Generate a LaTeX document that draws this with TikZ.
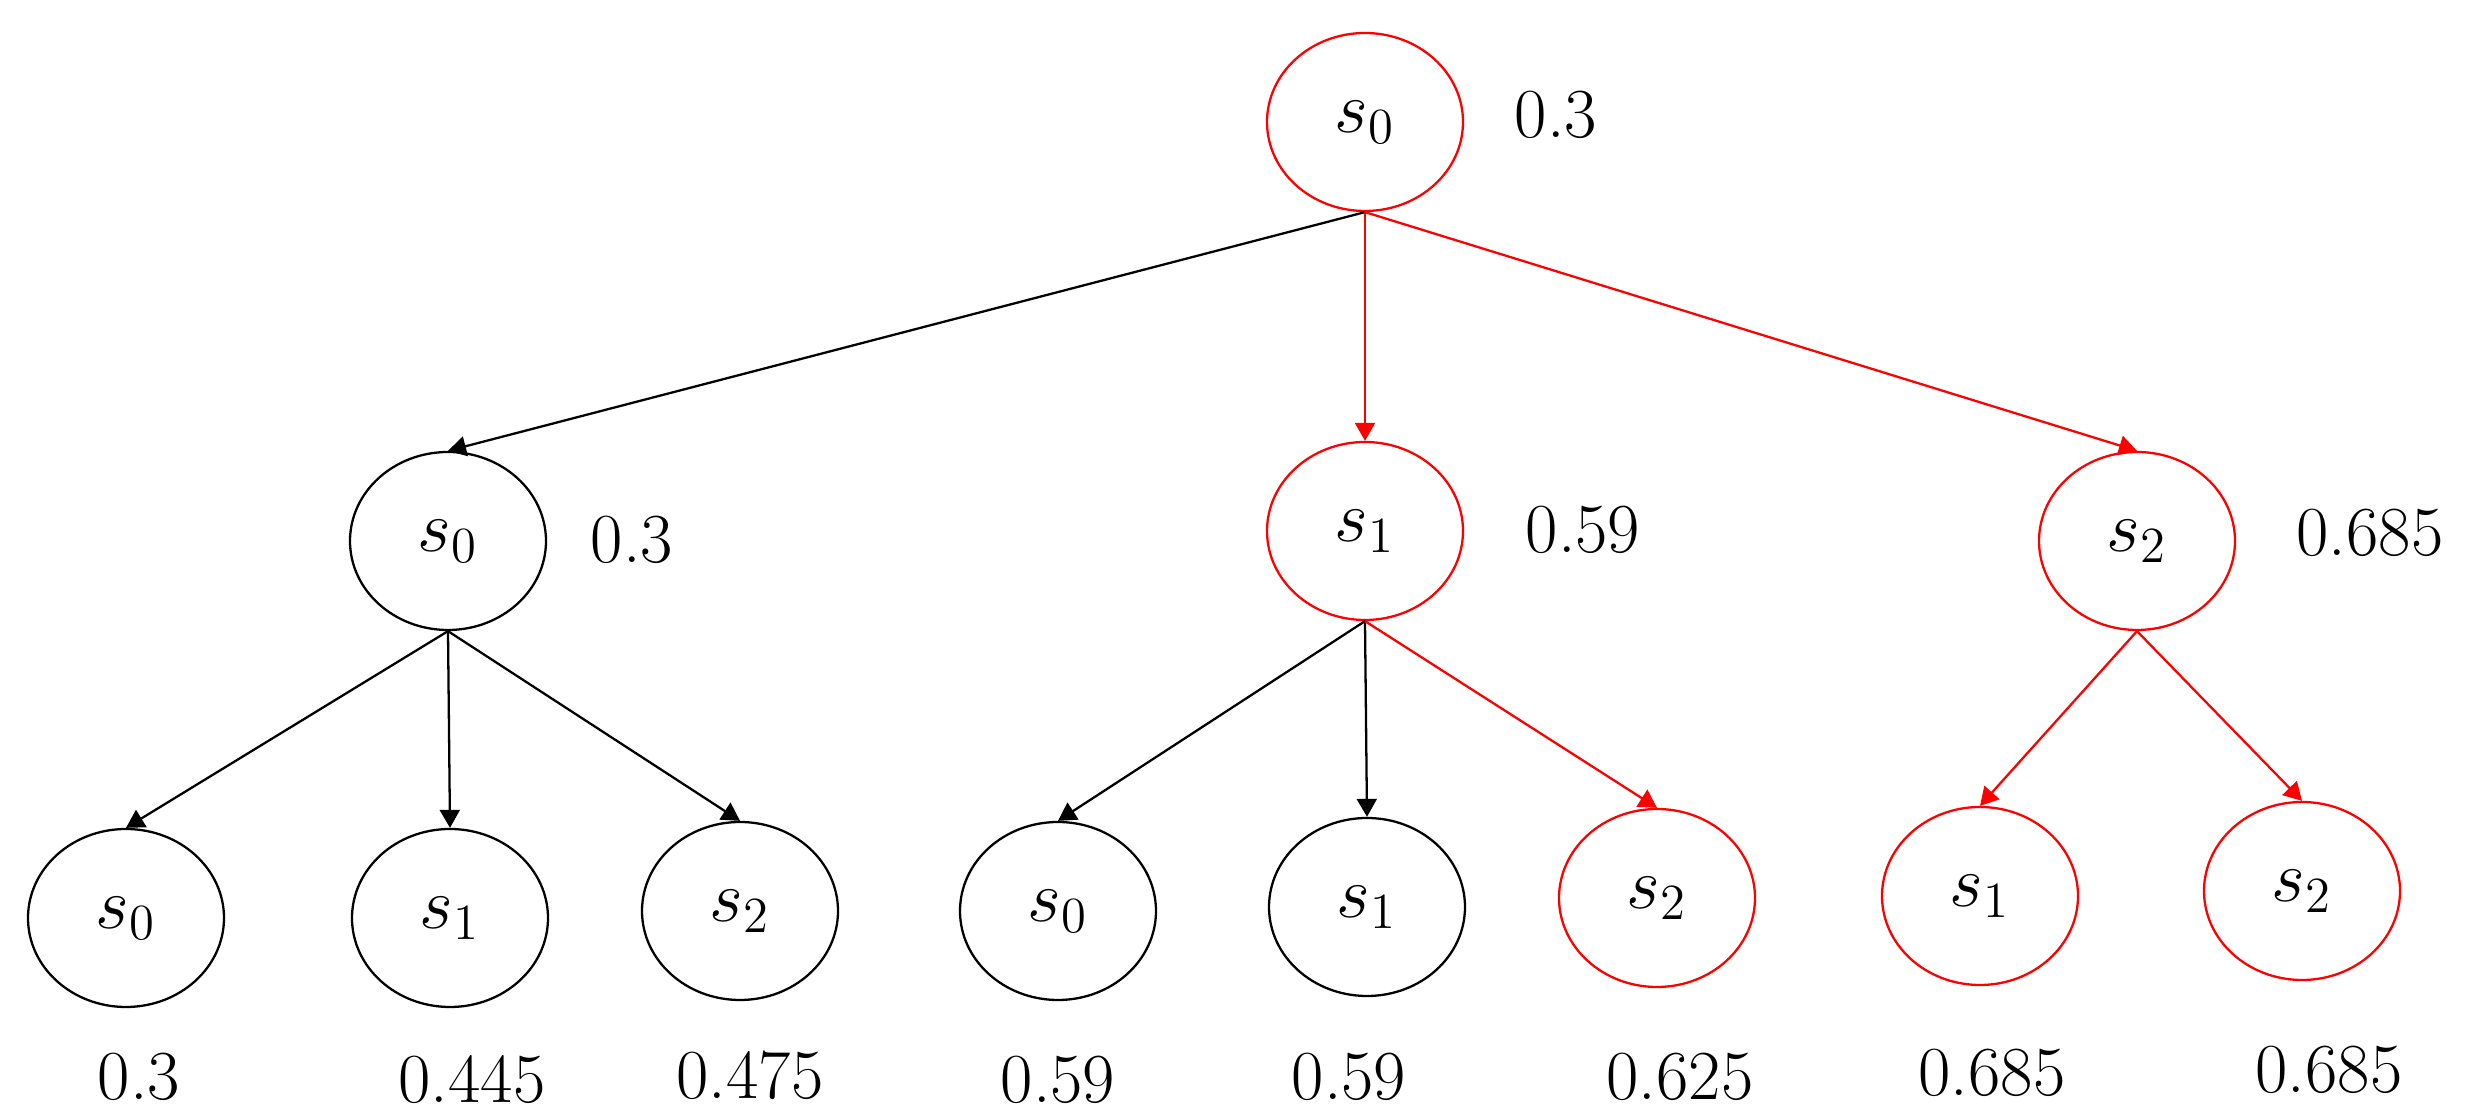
\documentclass[tikz,border=0pt]{standalone}
\usepackage{xcolor}
\usetikzlibrary{shapes.geometric,arrows.meta}
\begin{document}
\begin{tikzpicture}[font=\fontsize{20}{23}\selectfont,
		state/.style={draw,ellipse,inner sep=0pt,minimum width=1.96cm,minimum height=1.78cm,line width=0.65pt},
		hot/.style={state,draw=red},
		edge/.style={-{Triangle[length=1.8mm,width=2mm]},line width=0.65pt}]
			\useasboundingbox(0,0)rectangle(24.7,11.17);
			% states
			\node[hot](r)at(13.65,9.95){$s_0$};
			\node[state](a0)at(4.48,5.76){$s_0$};
			\node[hot](a1)at(13.65,5.86){$s_1$};
			\node[hot](a2)at(21.37,5.76){$s_2$};
			\node[state](b0)at(1.26,1.99){$s_0$};
			\node[state](b1)at(4.50,1.99){$s_1$};
			\node[state](b2)at(7.40,2.06){$s_2$};
			\node[state](b3)at(10.58,2.06){$s_0$};
			\node[state](b4)at(13.67,2.10){$s_1$};
			\node[hot](b5)at(16.57,2.19){$s_2$};
			\node[hot](b6)at(19.80,2.21){$s_1$};
			\node[hot](b7)at(23.02,2.26){$s_2$};
			% values
			\node(vr)at(15.56,10.02){0.3};
			\node(va0)at(6.32,5.77){0.3};
			\node(va1)at(15.83,5.87){0.59};
			\node(va2)at(23.70,5.84){0.685};
			\node(vb0)at(1.39,0.40){0.3};
			\node(vb1)at(4.72,0.37){0.445};
			\node(vb2)at(7.50,0.42){0.475};
			\node(vb3)at(10.58,0.37){0.59};
			\node(vb4)at(13.49,0.40){0.59};
			\node(vb5)at(16.80,0.40){0.625};
			\node(vb6)at(19.92,0.44){0.685};
			\node(vb7)at(23.29,0.47){0.685};
			% edges
			\draw[edge](r.south)--(a0.north);
			\draw[edge,red](r.south)--(a1.north);
			\draw[edge,red](r.south)--(a2.north);
			\foreach \c in {b0,b1,b2}{\draw[edge](a0.south)--(\c.north);}
			\draw[edge](a1.south)--(b3.north);
			\draw[edge](a1.south)--(b4.north);
			\draw[edge,red](a1.south)--(b5.north);
			\draw[edge,red](a2.south)--(b6.north);
			\draw[edge,red](a2.south)--(b7.north);
		\end{tikzpicture}
\end{document}
